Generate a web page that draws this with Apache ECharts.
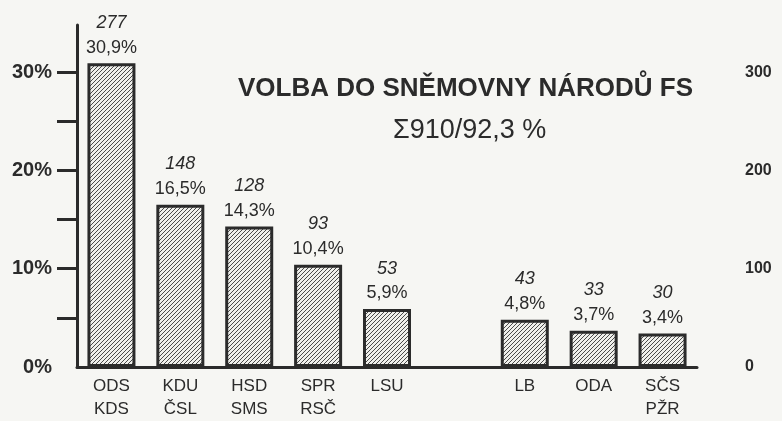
<!DOCTYPE html>
<html>
<head>
<meta charset="utf-8">
<script src="https://cdn.jsdelivr.net/npm/echarts@6/dist/echarts.min.js"></script>
<style>
html, body { margin: 0; padding: 0; background: #f6f6f3; }
#main { width: 782px; height: 421px; }
</style>
</head>
<body>
<div id="main"></div>
<script>
// data
var parties = ['ODS\nKDS', 'KDU\nČSL', 'HSD\nSMS', 'SPR\nRSČ', 'LSU', '', 'LB', 'ODA', 'SČS\nPŽR'];
var share = [30.9, 16.5, 14.3, 10.4, 5.9, null, 4.8, 3.7, 3.4];
var seats = [277, 148, 128, 93, 53, null, 43, 33, 30];
var pctTicks = [5, 10, 15, 20, 25, 30];
var pctLabels = [0, 10, 20, 30];
var seatLabels = [0, 100, 200, 300];
var titleText = 'VOLBA DO SNĚMOVNY NÁRODŮ FS';
var subText = 'Σ910/92,3 %';

var ink = '#2b2b2b';
var font = '"Liberation Sans", Arial, sans-serif';

// diagonal hatch fill
function hatch() {
    var c = document.createElement('canvas');
    c.width = 4; c.height = 4;
    var g = c.getContext('2d');
    g.fillStyle = '#efefeb';
    g.fillRect(0, 0, 4, 4);
    g.strokeStyle = '#4a4a4a';
    g.lineWidth = 1;
    g.beginPath();
    g.moveTo(0, 4); g.lineTo(4, 0);
    g.moveTo(-1, 1); g.lineTo(1, -1);
    g.moveTo(3, 5); g.lineTo(5, 3);
    g.stroke();
    return c;
}

var chart = echarts.init(document.getElementById('main'));

var option = {
    backgroundColor: '#f6f6f3',
    animation: false,
    title: [
        {
            text: titleText, left: 233, top: 71,
            textStyle: { fontFamily: font, fontWeight: 'bold', fontSize: 26, color: ink }
        },
        {
            text: subText, left: 388, top: 112,
            textStyle: { fontFamily: font, fontWeight: 'normal', fontSize: 27, color: ink }
        }
    ],
    grid: { left: 77, right: 85, top: 25, bottom: 53 },
    xAxis: {
        type: 'category',
        data: parties,
        axisLine: { lineStyle: { color: ink, width: 3 } },
        axisTick: { show: false },
        axisLabel: {
            interval: 0, margin: 8, color: ink,
            fontFamily: font, fontSize: 17, lineHeight: 23
        }
    },
    yAxis: [
        {
            type: 'value', min: 0, max: 34.8,
            splitLine: { show: false },
            axisLine: { show: true, lineStyle: { color: ink, width: 3 } },
            axisTick: { show: true, length: 20, lineStyle: { color: ink, width: 3 }, customValues: pctTicks },
            axisLabel: {
                customValues: pctLabels, margin: 25, color: ink,
                fontFamily: font, fontWeight: 'bold', fontSize: 20,
                formatter: '{value}%'
            }
        },
        {
            type: 'value', min: 0, max: 348,
            position: 'right',
            splitLine: { show: false },
            axisLine: { show: false },
            axisTick: { show: false },
            axisLabel: {
                customValues: seatLabels, margin: 48, color: ink,
                fontFamily: font, fontWeight: 'bold', fontSize: 16
            }
        }
    ],
    series: [{
        type: 'bar',
        data: share,
        barWidth: 48,
        itemStyle: {
            color: { image: hatch(), repeat: 'repeat' },
            borderColor: ink, borderWidth: 3
        },
        label: {
            show: true, position: 'top', distance: 3,
            formatter: function (p) {
                return '{s|' + seats[p.dataIndex] + '}\n{p|' + String(p.value).replace('.', ',') + '%}';
            },
            rich: {
                s: { fontFamily: font, fontStyle: 'italic', fontSize: 18, color: ink, lineHeight: 25, align: 'center' },
                p: { fontFamily: font, fontSize: 18, color: ink, lineHeight: 25, align: 'center' }
            }
        }
    }]
};

chart.setOption(option);
</script>
</body>
</html>
